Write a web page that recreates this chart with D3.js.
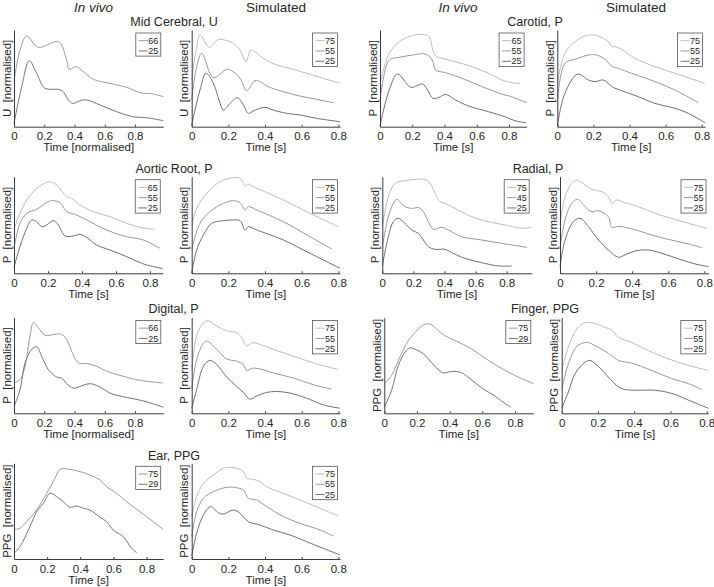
<!DOCTYPE html>
<html><head><meta charset="utf-8">
<script src="https://cdn.jsdelivr.net/npm/d3@7"></script>
<style>
body{margin:0;background:#fff}
svg{display:block;font-family:"Liberation Sans",Arial,Helvetica,sans-serif}
</style></head><body><svg id="c" width="714" height="587"></svg>
<script>
// ---------- DATA ----------
const columnHeaders = ["In vivo", "Simulated", "In vivo", "Simulated"];
const panelTitles = ["Mid Cerebral, U", "Carotid, P", "Aortic Root, P", "Radial, P", "Digital, P", "Finger, PPG", "Ear, PPG"];
const xTicks = [0, 0.2, 0.4, 0.6, 0.8];
const xTickLabels = ["0", "0.2", "0.4", "0.6", "0.8"];

// each series: age label + [time, normalised value]
const midCerebralVivo = [
 {age:"66", pts:[[0,0.47],[0.040,0.793],[0.084,0.938],[0.161,0.821],[0.271,0.879],[0.304,0.869],[0.348,0.690],[0.364,0.593],[0.410,0.621],[0.458,0.569],[0.525,0.490],[0.635,0.448],[0.745,0.407],[0.833,0.352],[0.921,0.338],[0.987,0.310]]},
 {age:"25", pts:[[0,0.034],[0.051,0.414],[0.101,0.683],[0.150,0.552],[0.205,0.397],[0.293,0.386],[0.326,0.362],[0.359,0.276],[0.388,0.241],[0.436,0.269],[0.480,0.276],[0.569,0.224],[0.679,0.155],[0.789,0.103],[0.877,0.093],[0.987,0.062]]}
];
const midCerebralSim = [
 {age:"75", pts:[[0,0.483],[0.024,0.793],[0.045,0.948],[0.096,0.821],[0.145,0.903],[0.191,0.890],[0.227,0.862],[0.264,0.793],[0.296,0.672],[0.322,0.793],[0.345,0.776],[0.391,0.707],[0.464,0.638],[0.536,0.603],[0.627,0.552],[0.718,0.500],[0.809,0.448]]},
 {age:"55", pts:[[0,0.276],[0.027,0.621],[0.055,0.759],[0.118,0.507],[0.191,0.593],[0.227,0.569],[0.264,0.500],[0.300,0.372],[0.345,0.476],[0.373,0.466],[0.409,0.421],[0.500,0.362],[0.591,0.317],[0.700,0.276],[0.773,0.248]]},
 {age:"25", pts:[[0,0.017],[0.045,0.379],[0.078,0.552],[0.118,0.45],[0.150,0.27],[0.173,0.172],[0.209,0.241],[0.249,0.300],[0.282,0.224],[0.309,0.138],[0.345,0.172],[0.400,0.200],[0.445,0.172],[0.518,0.138],[0.591,0.121],[0.682,0.086],[0.809,0.052]]}
];
const carotidVivo = [
 {age:"65", pts:[[0,0.448],[0.057,0.759],[0.119,0.879],[0.191,0.938],[0.263,0.955],[0.304,0.931],[0.328,0.793],[0.345,0.731],[0.386,0.707],[0.468,0.672],[0.570,0.621],[0.673,0.552],[0.755,0.483],[0.816,0.455],[0.868,0.448]]},
 {age:"55", pts:[[0,0.259],[0.057,0.690],[0.119,0.717],[0.201,0.741],[0.283,0.752],[0.324,0.690],[0.345,0.586],[0.406,0.559],[0.509,0.500],[0.632,0.414],[0.755,0.338],[0.816,0.310],[0.909,0.248]]},
 {age:"25", pts:[[0,0.007],[0.057,0.379],[0.109,0.545],[0.191,0.407],[0.263,0.441],[0.293,0.386],[0.328,0.293],[0.365,0.303],[0.406,0.334],[0.468,0.276],[0.550,0.214],[0.673,0.155],[0.775,0.103],[0.837,0.062],[0.909,0.041]]}
];
const carotidSim = [
 {age:"75", pts:[[0,0.448],[0.042,0.759],[0.098,0.879],[0.172,0.948],[0.227,0.938],[0.283,0.879],[0.301,0.828],[0.320,0.828],[0.357,0.800],[0.430,0.707],[0.541,0.621],[0.652,0.552],[0.763,0.483],[0.818,0.448]]},
 {age:"55", pts:[[0,0.248],[0.042,0.655],[0.098,0.697],[0.172,0.741],[0.218,0.741],[0.264,0.697],[0.301,0.628],[0.338,0.603],[0.412,0.552],[0.541,0.466],[0.652,0.379],[0.781,0.248]]},
 {age:"25", pts:[[0,0.007],[0.042,0.345],[0.113,0.545],[0.172,0.483],[0.209,0.466],[0.255,0.483],[0.292,0.431],[0.310,0.407],[0.357,0.372],[0.449,0.310],[0.541,0.241],[0.652,0.190],[0.726,0.138],[0.818,0.041]]}
];
const aorticVivo = [
 {age:"65", pts:[[0,0.455],[0.035,0.621],[0.075,0.759],[0.133,0.879],[0.192,0.941],[0.212,0.948],[0.251,0.914],[0.310,0.793],[0.339,0.776],[0.388,0.707],[0.467,0.638],[0.565,0.586],[0.663,0.517],[0.741,0.476],[0.829,0.455]]},
 {age:"55", pts:[[0,0.259],[0.035,0.517],[0.075,0.621],[0.133,0.662],[0.192,0.731],[0.222,0.752],[0.271,0.731],[0.310,0.638],[0.369,0.603],[0.447,0.534],[0.545,0.448],[0.663,0.379],[0.761,0.345],[0.859,0.259]]},
 {age:"25", pts:[[0,0.062],[0.035,0.276],[0.075,0.466],[0.104,0.552],[0.133,0.534],[0.163,0.483],[0.192,0.500],[0.231,0.545],[0.261,0.500],[0.300,0.386],[0.349,0.386],[0.388,0.403],[0.427,0.372],[0.486,0.293],[0.565,0.241],[0.663,0.172],[0.761,0.097],[0.875,0.048]]}
];
const aorticSim = [
 {age:"75", pts:[[0,0.490],[0.027,0.672],[0.082,0.828],[0.155,0.948],[0.227,0.990],[0.264,0.983],[0.291,0.903],[0.309,0.924],[0.336,0.897],[0.5,0.759],[0.645,0.621],[0.8,0.483]]},
 {age:"55", pts:[[0,0.248],[0.045,0.517],[0.1,0.638],[0.173,0.724],[0.227,0.752],[0.264,0.731],[0.291,0.655],[0.309,0.690],[0.355,0.655],[0.5,0.534],[0.645,0.379],[0.764,0.252]]},
 {age:"25", pts:[[0,0],[0.027,0.241],[0.064,0.397],[0.109,0.517],[0.173,0.545],[0.227,0.552],[0.264,0.545],[0.291,0.448],[0.309,0.483],[0.355,0.448],[0.5,0.345],[0.645,0.207],[0.809,0.052]]}
];
const radialVivo = [
 {age:"75", pts:[[0,0.483],[0.039,0.793],[0.082,0.931],[0.146,0.959],[0.210,0.972],[0.275,0.972],[0.307,0.931],[0.350,0.793],[0.371,0.741],[0.403,0.724],[0.468,0.672],[0.575,0.586],[0.682,0.534],[0.790,0.500],[0.897,0.466],[0.961,0.476]]},
 {age:"45", pts:[[0,0.276],[0.039,0.586],[0.071,0.724],[0.092,0.766],[0.146,0.690],[0.200,0.672],[0.232,0.683],[0.264,0.638],[0.307,0.500],[0.328,0.455],[0.382,0.476],[0.425,0.448],[0.511,0.379],[0.639,0.345],[0.768,0.310],[0.929,0.269]]},
 {age:"25", pts:[[0,0.076],[0.039,0.379],[0.071,0.534],[0.103,0.569],[0.146,0.517],[0.189,0.448],[0.232,0.414],[0.264,0.345],[0.296,0.276],[0.339,0.248],[0.403,0.248],[0.446,0.214],[0.532,0.155],[0.639,0.110],[0.747,0.076],[0.833,0.076]]}
];
const radialSim = [
 {age:"75", pts:[[0,0.5],[0.028,0.793],[0.065,0.931],[0.092,0.966],[0.139,0.914],[0.176,0.869],[0.231,0.845],[0.268,0.793],[0.287,0.724],[0.314,0.759],[0.342,0.741],[0.434,0.690],[0.527,0.621],[0.616,0.569],[0.712,0.517],[0.813,0.466]]},
 {age:"55", pts:[[0,0.259],[0.028,0.552],[0.065,0.724],[0.098,0.766],[0.139,0.690],[0.176,0.638],[0.213,0.648],[0.268,0.586],[0.287,0.476],[0.314,0.483],[0.342,0.483],[0.434,0.441],[0.527,0.386],[0.616,0.345],[0.712,0.303],[0.786,0.266]]},
 {age:"25", pts:[[0,0.069],[0.028,0.345],[0.074,0.534],[0.111,0.569],[0.157,0.483],[0.213,0.345],[0.268,0.241],[0.323,0.166],[0.360,0.190],[0.416,0.231],[0.490,0.241],[0.564,0.207],[0.675,0.138],[0.749,0.097],[0.823,0.069]]}
];
const digitalVivo = [
 {age:"66", pts:[[0,0.323],[0.040,0.351],[0.073,0.491],[0.106,0.807],[0.128,0.947],[0.161,0.895],[0.205,0.814],[0.271,0.825],[0.315,0.825],[0.348,0.772],[0.381,0.649],[0.425,0.526],[0.480,0.519],[0.547,0.491],[0.613,0.439],[0.723,0.386],[0.833,0.344],[0.987,0.316]]},
 {age:"25", pts:[[0,0.070],[0.040,0.246],[0.073,0.526],[0.117,0.667],[0.150,0.695],[0.183,0.596],[0.227,0.456],[0.282,0.379],[0.315,0.368],[0.348,0.309],[0.392,0.263],[0.425,0.274],[0.502,0.309],[0.569,0.274],[0.635,0.211],[0.745,0.165],[0.855,0.130],[0.987,0.063]]}
];
const digitalSim = [
 {age:"75", pts:[[0,0.456],[0.027,0.807],[0.064,0.947],[0.091,0.965],[0.136,0.912],[0.191,0.860],[0.245,0.842],[0.273,0.789],[0.3,0.702],[0.327,0.737],[0.355,0.730],[0.445,0.667],[0.555,0.596],[0.664,0.526],[0.8,0.456]]},
 {age:"55", pts:[[0,0.253],[0.027,0.561],[0.064,0.730],[0.082,0.754],[0.136,0.667],[0.191,0.568],[0.245,0.544],[0.282,0.509],[0.3,0.446],[0.327,0.470],[0.373,0.463],[0.445,0.421],[0.555,0.368],[0.664,0.298],[0.764,0.253]]},
 {age:"25", pts:[[0,0.053],[0.027,0.246],[0.064,0.491],[0.1,0.554],[0.136,0.509],[0.191,0.379],[0.245,0.281],[0.282,0.218],[0.318,0.147],[0.355,0.182],[0.409,0.218],[0.464,0.228],[0.536,0.211],[0.627,0.158],[0.718,0.088],[0.809,0.053]]}
];
const fingerVivo = [
 {age:"75", pts:[[0,0.310],[0.045,0.397],[0.086,0.552],[0.147,0.759],[0.208,0.879],[0.249,0.931],[0.290,0.924],[0.320,0.879],[0.371,0.810],[0.433,0.759],[0.535,0.672],[0.637,0.552],[0.739,0.448],[0.841,0.362],[0.912,0.310]]},
 {age:"29", pts:[[0,0.062],[0.045,0.241],[0.086,0.5],[0.127,0.638],[0.157,0.683],[0.198,0.662],[0.239,0.621],[0.269,0.569],[0.310,0.490],[0.361,0.421],[0.392,0.431],[0.433,0.438],[0.473,0.424],[0.524,0.362],[0.596,0.266],[0.678,0.179],[0.739,0.103],[0.776,0.062]]}
];
const fingerSim = [
 {age:"75", pts:[[0,0.448],[0.037,0.690],[0.083,0.879],[0.129,0.945],[0.184,0.938],[0.239,0.897],[0.276,0.869],[0.313,0.793],[0.386,0.741],[0.478,0.655],[0.588,0.569],[0.699,0.5],[0.809,0.448]]},
 {age:"55", pts:[[0,0.248],[0.037,0.517],[0.083,0.697],[0.138,0.741],[0.184,0.707],[0.239,0.648],[0.276,0.603],[0.313,0.552],[0.386,0.524],[0.496,0.448],[0.607,0.362],[0.699,0.310],[0.772,0.248]]},
 {age:"25", pts:[[0,0.052],[0.037,0.224],[0.074,0.414],[0.129,0.534],[0.156,0.552],[0.202,0.490],[0.257,0.379],[0.313,0.276],[0.349,0.248],[0.423,0.241],[0.515,0.241],[0.607,0.207],[0.699,0.138],[0.809,0.052]]}
];
const earVivo = [
 {age:"75", pts:[[0,0.310],[0.036,0.321],[0.076,0.390],[0.137,0.512],[0.197,0.686],[0.247,0.843],[0.277,0.937],[0.338,0.937],[0.398,0.913],[0.458,0.878],[0.519,0.826],[0.559,0.756],[0.619,0.686],[0.679,0.599],[0.760,0.495],[0.840,0.390],[0.900,0.310]]},
 {age:"29", pts:[[0,0.059],[0.036,0.129],[0.096,0.338],[0.137,0.495],[0.177,0.582],[0.217,0.686],[0.257,0.652],[0.297,0.599],[0.338,0.540],[0.378,0.554],[0.418,0.530],[0.458,0.512],[0.519,0.436],[0.559,0.390],[0.599,0.303],[0.659,0.233],[0.710,0.111],[0.740,0.066]]}
];
const earSim = [
 {age:"75", pts:[[0,0.436],[0.027,0.652],[0.064,0.791],[0.118,0.878],[0.173,0.948],[0.227,0.955],[0.282,0.913],[0.3,0.843],[0.336,0.833],[0.373,0.808],[0.409,0.756],[0.5,0.686],[0.591,0.617],[0.7,0.530],[0.8,0.449]]},
 {age:"55", pts:[[0,0.233],[0.027,0.495],[0.064,0.634],[0.118,0.704],[0.191,0.749],[0.227,0.749],[0.282,0.721],[0.309,0.634],[0.355,0.617],[0.409,0.547],[0.5,0.443],[0.591,0.373],[0.7,0.303],[0.773,0.240]]},
 {age:"25", pts:[[0,0.031],[0.027,0.268],[0.064,0.460],[0.104,0.547],[0.145,0.484],[0.173,0.470],[0.227,0.512],[0.264,0.477],[0.309,0.390],[0.373,0.355],[0.445,0.303],[0.536,0.251],[0.627,0.181],[0.718,0.111],[0.809,0.042]]}
];

// ---------- LAYOUT ----------
const rows = [{top:30,bottom:126.7},{top:176.7,bottom:273.3},{top:317.5,bottom:413.3},{top:463.3,bottom:559}];
const headerPos = [{x:93.5},{x:276},{x:458},{x:636}];
const titlePos = [{x:174,y:26},{x:535,y:26},{x:174,y:173},{x:538,y:172.5},{x:173.5,y:313},{x:545,y:313},{x:174,y:460}];
const panels = [
 {data:midCerebralVivo,row:0,left:14,width:149.3,xl:"Time [normalised]",yl:"U  [normalised]"},
 {data:midCerebralSim,row:0,left:191.7,width:148.3,xl:"Time [s]",yl:"U  [normalised]"},
 {data:carotidVivo,row:0,left:380,width:146.6,xl:"Time [s]",yl:"P  [normalised]"},
 {data:carotidSim,row:0,left:557.3,width:147.7,xl:"Time [s]",yl:"P  [normalised]"},
 {data:aorticVivo,row:1,left:14,width:148.75,xl:"Time [s]",yl:"P  [normalised]"},
 {data:aorticSim,row:1,left:191.7,width:148.3,xl:"Time [s]",yl:"P  [normalised]"},
 {data:radialVivo,row:1,left:382.3,width:149.4,xl:"Time [s]",yl:"P  [normalised]"},
 {data:radialSim,row:1,left:560,width:148.5,xl:"Time [s]",yl:"P  [normalised]"},
 {data:digitalVivo,row:2,left:14,width:149.3,xl:"Time [normalised]",yl:"P  [normalised]"},
 {data:digitalSim,row:2,left:191.7,width:148.3,xl:"Time [s]",yl:"P  [normalised]"},
 {data:fingerVivo,row:2,left:384.3,width:149,xl:"Time [s]",yl:"PPG  [normalised]"},
 {data:fingerSim,row:2,left:561.7,width:146.6,xl:"Time [s]",yl:"PPG  [normalised]"},
 {data:earVivo,row:3,left:14,width:149.2,xl:"Time [s]",yl:"PPG  [normalised]"},
 {data:earSim,row:3,left:191.7,width:148.3,xl:"Time [s]",yl:"PPG  [normalised]"}
];
const shades3 = ["#bdbdbd", "#999999", "#707070"];
const shades2 = ["#9c9c9c", "#757575"];
const ink = "#262626";

const svg = d3.select("#c");
svg.append("rect").attr("width",714).attr("height",587).attr("fill","#fff");

columnHeaders.forEach((h,i) => {
  svg.append("text").attr("x",headerPos[i].x).attr("y",11.5).attr("text-anchor","middle")
    .attr("font-size",13.5).attr("fill",ink).attr("font-style", i%2===0 ? "italic" : "normal").text(h);
});
panelTitles.forEach((t,i) => {
  svg.append("text").attr("x",titlePos[i].x).attr("y",titlePos[i].y).attr("text-anchor","middle")
    .attr("font-size",12.5).attr("fill",ink).text(t);
});

panels.forEach(p => {
  const r = rows[p.row];
  const tmax = d3.max(p.data, s => d3.max(s.pts, d => d[0]));
  const x = d3.scaleLinear().domain([0, tmax]).range([p.left, p.left + p.width]);
  const y = d3.scaleLinear().domain([0, 1]).range([r.bottom, r.top]);
  const g = svg.append("g");
  const cols = p.data.length === 3 ? shades3 : shades2;
  const line = d3.line().x(d => x(d[0])).y(d => y(d[1])).curve(d3.curveCatmullRom.alpha(0.5));
  p.data.forEach((s,i) => {
    g.append("path").attr("d", line(s.pts)).attr("fill","none").attr("stroke",cols[i]).attr("stroke-width",1);
  });
  const ax = g.append("g").attr("transform",`translate(0,${r.bottom})`)
    .call(d3.axisBottom(x).tickValues(xTicks).tickFormat((d,i) => xTickLabels[i]).tickSizeInner(-2).tickSizeOuter(0).tickPadding(5.5));
  ax.selectAll("path,line").attr("stroke","#3a3a3a");
  ax.selectAll("text").attr("fill",ink).attr("font-size",11.5).attr("font-family",null);
  const ay = g.append("g").attr("transform",`translate(${p.left},0)`)
    .call(d3.axisLeft(y).tickValues([]).tickSizeOuter(0));
  ay.selectAll("path").attr("stroke","#3a3a3a");
  g.append("text").attr("x",p.left + p.width/2).attr("y",r.bottom + 24.5).attr("text-anchor","middle")
    .attr("font-size",11.5).attr("fill",ink).text(p.xl);
  g.append("text").attr("transform",`translate(${p.left-3.5},${(r.top+r.bottom)/2}) rotate(-90)`)
    .attr("text-anchor","middle").attr("font-size",11.5).attr("fill",ink)
    .style("white-space","pre").text(p.yl);
  // legend
  const rowH = 10.3, bw = 25;
  const bx = p.left + p.width - 2.5 - bw, by = r.top + 3;
  const lg = g.append("g");
  lg.append("rect").attr("x",bx).attr("y",by).attr("width",bw).attr("height",p.data.length*rowH + 2.5)
    .attr("fill","#fff").attr("stroke","#555").attr("stroke-width",0.8);
  p.data.forEach((s,i) => {
    const cy = by + 3.5 + rowH*(i+0.5) - 1;
    lg.append("line").attr("x1",bx+3).attr("x2",bx+12).attr("y1",cy).attr("y2",cy).attr("stroke",cols[i]).attr("stroke-width",1);
    lg.append("text").attr("x",bx+12.5).attr("y",cy+3.2).attr("font-size",9).attr("fill",ink).text(s.age);
  });
});
</script></body></html>
